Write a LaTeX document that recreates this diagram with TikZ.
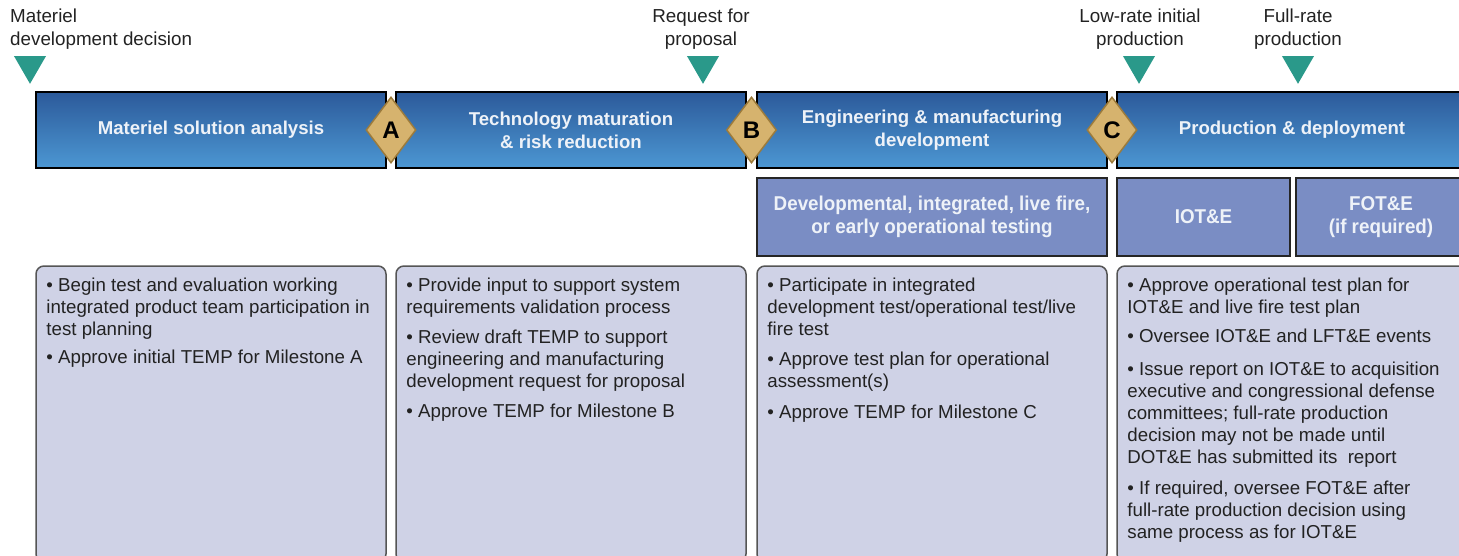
\documentclass[tikz,border=0pt]{standalone}
\usepackage{fontspec}
\setmainfont{Liberation Sans}
\newfontfamily\narrowfont[FakeStretch=0.94]{Liberation Sans}
\usetikzlibrary{shapes.geometric}
\definecolor{barTop}{HTML}{2C5A9A}
\definecolor{barBot}{HTML}{4C97D3}
\definecolor{tan}{HTML}{D6B36E}
\definecolor{tanDark}{HTML}{9C7B3C}
\definecolor{tealM}{HTML}{2A998A}
\definecolor{rowTwo}{HTML}{7A8DC4}
\definecolor{boxFill}{HTML}{CFD2E6}
\definecolor{boxLine}{HTML}{555555}
\definecolor{txt}{HTML}{222222}
\definecolor{barText}{HTML}{EEF2F8}
\tikzset{
  phase/.style={draw=black, line width=2pt, top color=barTop, bottom color=barBot,
    minimum height=76pt, inner sep=0pt, text=barText, align=center,
    font=\fontsize{18.6}{23}\selectfont\bfseries},
  mile/.style={shape=diamond, fill=tan, draw=tanDark, line width=1.5pt,
    minimum width=50pt, minimum height=66pt, inner sep=0pt,
    font=\fontsize{24}{24}\selectfont\bfseries, text=black},
  tri/.style={regular polygon, regular polygon sides=3, shape border rotate=180,
    fill=tealM, minimum size=37pt, inner sep=0pt},
  lbl/.style={text=txt, font=\fontsize{18.8}{23}\selectfont, inner sep=0pt},
  testbox/.style={draw=black!85, line width=1.5pt, fill=rowTwo, text=barText,
    minimum height=78pt, inner sep=0pt, align=center,
    font=\fontsize{20}{23.5}\selectfont\narrowfont\bfseries},
  infobox/.style={draw=boxLine, line width=1.5pt, fill=boxFill, rounded corners=8pt,
    minimum height=296pt, inner sep=0pt},
  info/.style={anchor=north west, text=txt, align=left, inner sep=0pt,
    font=\fontsize{18.7}{22}\selectfont}
}
\begin{document}
\begin{tikzpicture}[x=1pt,y=-1pt]
\useasboundingbox (0,0) rectangle (1459,556);
\clip (0,0) rectangle (1459,556);

% milestone triangles and labels
\node[tri] (t1) at (30,65.3) {};
\node[tri] (t2) at (703,65.3) {};
\node[tri] (t3) at (1139,65.3) {};
\node[tri] (t4) at (1298,65.3) {};
\node[lbl, anchor=north west, align=left] (l1) at (10,9) {Materiel\\development decision};
\node[lbl, anchor=north, align=center] (l2) at (701,9) {Request for\\proposal};
\node[lbl, anchor=north, align=center] (l3) at (1140,9) {Low-rate initial\\production};
\node[lbl, anchor=north, align=center] (l4) at (1298,9) {Full-rate\\production};

% phase bars
\node[phase, minimum width=350pt] (p1) at (211,130) {Materiel solution analysis};
\node[phase, minimum width=350pt] (p2) at (571,130) {Technology maturation\\\& risk reduction};
\node[phase, minimum width=350pt] (p3) at (932,130) {Engineering \& manufacturing\\development};
\node[phase, minimum width=350pt] (p4) at (1292,130) {Production \& deployment};

% milestone diamonds
\node[mile] (mA) at (391,130) {A};
\node[mile] (mB) at (751.5,130) {B};
\node[mile] (mC) at (1112,130) {C};

% testing row
\node[testbox, minimum width=350pt] (d1) at (932,217) {Developmental, integrated, live fire,\\or early operational testing};
\node[testbox, minimum width=173pt] (d2) at (1203.5,217) {IOT\&E};
\node[testbox, minimum width=170pt] (d3) at (1381,217) {FOT\&E\\(if required)};

% info boxes
\node[infobox, minimum width=350pt] (b1) at (211,414) {};
\node[infobox, minimum width=350pt] (b2) at (571,414) {};
\node[infobox, minimum width=350pt] (b3) at (932,414) {};
\node[infobox, minimum width=350pt] (b4) at (1292,414) {};

\node[info] (i1) at ([xshift=11pt,yshift=-12pt]b1.north west) {%
\textbullet\ Begin test and evaluation working\\
integrated product team participation in\\
test planning\\[6pt]
\textbullet\ Approve initial TEMP for Milestone A};

\node[info] (i2) at ([xshift=11pt,yshift=-12pt]b2.north west) {%
\textbullet\ Provide input to support system\\
requirements validation process\\[8pt]
\textbullet\ Review draft TEMP to support\\
engineering and manufacturing\\
development request for proposal\\[8pt]
\textbullet\ Approve TEMP for Milestone B};

\node[info] (i3) at ([xshift=11pt,yshift=-12pt]b3.north west) {%
\textbullet\ Participate in integrated\\
development test/operational test/live\\
fire test\\[8pt]
\textbullet\ Approve test plan for operational\\
assessment(s)\\[9pt]
\textbullet\ Approve TEMP for Milestone C};

\node[info] (i4) at ([xshift=11pt,yshift=-12pt]b4.north west) {%
\textbullet\ Approve operational test plan for\\
IOT\&E and live fire test plan\\[7pt]
\textbullet\ Oversee IOT\&E and LFT\&E events\\[11pt]
\textbullet\ Issue report on IOT\&E to acquisition\\
executive and congressional defense\\
committees; full-rate production\\
decision may not be made until\\
DOT\&E has submitted its\ \ report\\[9pt]
\textbullet\ If required, oversee FOT\&E after\\
full-rate production decision using\\
same process as for IOT\&E};
\end{tikzpicture}
\end{document}
